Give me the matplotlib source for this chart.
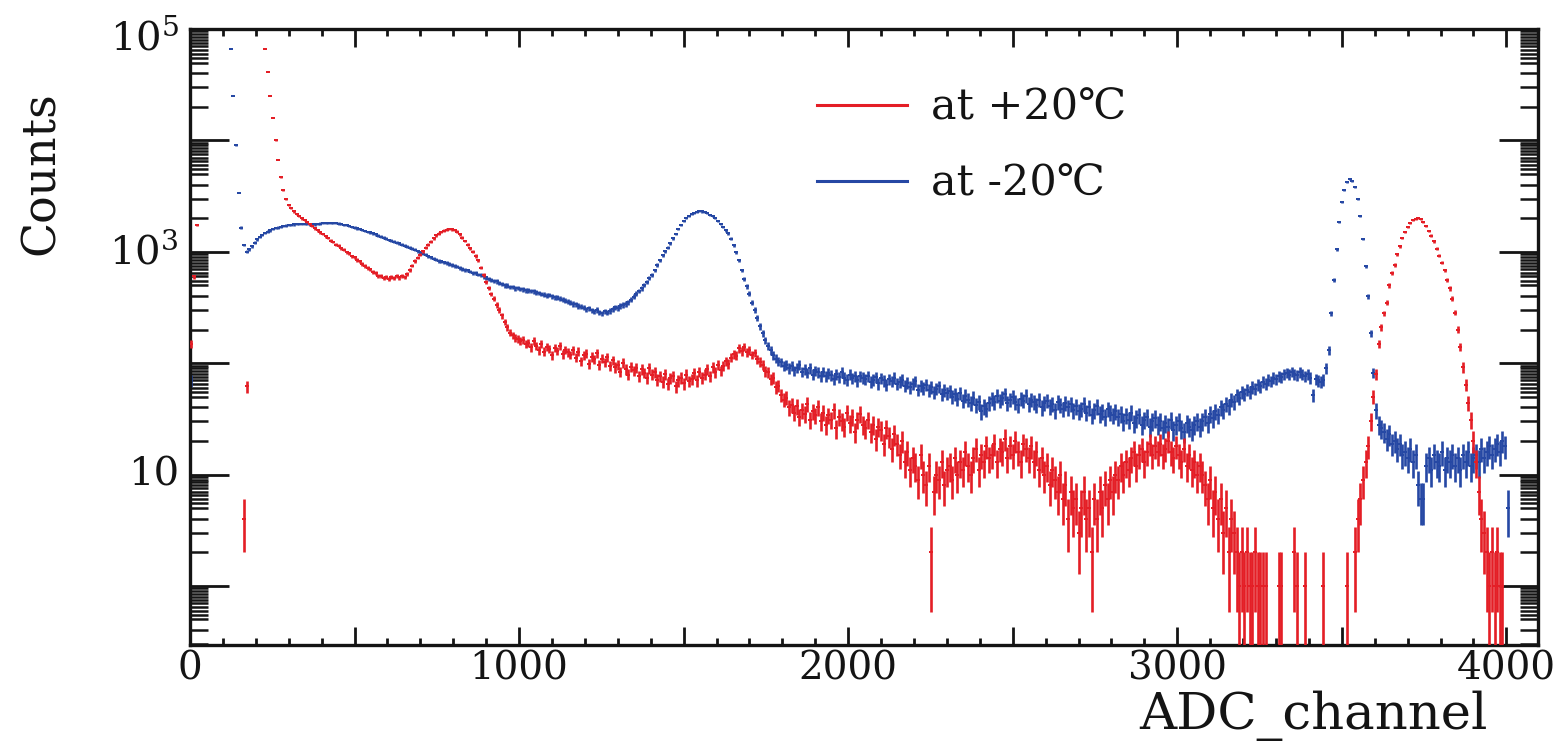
import numpy as np
import matplotlib
matplotlib.use("Agg")
import matplotlib.pyplot as plt
from matplotlib.lines import Line2D
from matplotlib.transforms import ScaledTranslation
from matplotlib.ticker import (FixedLocator, FixedFormatter, MultipleLocator,
                               LogLocator, NullFormatter, FuncFormatter)

plt.rcParams['font.family'] = ['DejaVu Serif', 'DejaVu Sans']
plt.rcParams['mathtext.fontset'] = 'dejavuserif'
plt.rcParams['ytick.alignment'] = 'center'

# ADC spectrum: 512 bins of 8 channels (0 .. 4096)
BIN_WIDTH = 8

# counts per bin, +20 C run (rows of 16 bins = 128 channels)
counts_warm = [
    150, 600, 1750, 0, 0, 0, 0, 0, 0, 0, 0, 0, 0, 0, 0, 0,
    0, 0, 0, 0, 4, 62, 180000, 520000, 900000, 760000, 380000, 140000, 66000, 41000, 25000, 16000,
    10000, 6700, 4700, 3600, 3000, 2650, 2450, 2300, 2180, 2080, 1990, 1920, 1850, 1780, 1700, 1620,
    1560, 1495, 1450, 1375, 1330, 1262, 1225, 1160, 1135, 1072, 1048, 995, 968, 915, 893, 846,
    822, 776, 745, 712, 694, 661, 645, 612, 604, 582, 596, 571, 598, 578, 609, 588,
    612, 598, 633, 684, 752, 826, 884, 938, 1012, 1088, 1162, 1236, 1318, 1402, 1458, 1512,
    1548, 1582, 1603, 1588, 1566, 1518, 1432, 1338, 1252, 1162, 1080, 1002, 918, 836, 722, 618,
    538, 472, 418, 378, 334, 302, 268, 236, 210, 188, 179, 168, 165, 158, 161, 149,
    152, 139, 158, 144, 131, 149, 127, 141, 135, 118, 138, 129, 143, 121, 132, 126,
    119, 131, 112, 127, 104, 118, 122, 99, 114, 108, 123, 96, 110, 102, 113, 94,
    106, 92, 97, 84, 101, 88, 79, 93, 86, 91, 77, 88, 82, 74, 90, 79,
    83, 71, 76, 68, 80, 65, 73, 77, 62, 70, 74, 66, 79, 69, 72, 81,
    70, 84, 74, 79, 88, 76, 92, 83, 97, 86, 94, 104, 99, 112, 121, 117,
    136, 128, 141, 125, 131, 119, 124, 108, 103, 97, 85, 83, 72, 74, 61, 63,
    52, 47, 49, 40, 42, 36, 41, 33, 38, 35, 43, 31, 37, 34, 40, 30,
    36, 28, 34, 31, 38, 26, 33, 30, 27, 36, 29, 33, 24, 31, 35, 28,
    26, 31, 24, 28, 21, 27, 25, 19, 26, 22, 17, 23, 19, 15, 20, 13,
    16, 11, 14, 12, 9, 15, 10, 8, 12, 2, 7, 10, 9, 13, 8, 11,
    12, 9, 14, 10, 13, 11, 16, 12, 10, 14, 17, 11, 15, 13, 18, 14,
    15, 19, 13, 17, 16, 21, 14, 18, 15, 20, 16, 13, 19, 17, 14, 18,
    13, 16, 11, 14, 10, 12, 8, 11, 9, 7, 10, 6, 8, 4, 7, 5,
    6, 3, 5, 7, 4, 5, 2, 6, 4, 7, 5, 8, 6, 9, 7, 10,
    9, 12, 10, 13, 11, 14, 16, 12, 15, 17, 13, 16, 19, 15, 18, 16,
    19, 15, 17, 20, 16, 14, 18, 15, 13, 17, 12, 15, 11, 13, 10, 12,
    10, 8, 6, 9, 5, 7, 4, 6, 3, 5, 2, 4, 3, 2, 1, 2,
    1, 2, 1, 1, 2, 1, 1, 1, 1, 0, 0, 0, 0, 1, 1, 0,
    0, 0, 0, 2, 1, 0, 0, 1, 0, 0, 0, 0, 0, 0, 1, 0,
    0, 0, 0, 0, 0, 0, 0, 1, 0, 0, 2, 4, 6, 9, 13, 18,
    30, 50, 80, 150, 210, 280, 350, 500, 640, 760, 950, 1120, 1330, 1500, 1660, 1800,
    1920, 1980, 2010, 1980, 1860, 1700, 1540, 1400, 1240, 1060, 920, 800, 680, 560, 470, 380,
    285, 200, 140, 92, 64, 44, 31, 20, 13, 7, 4, 3, 2, 1, 2, 1,
    2, 1, 1, 0, 0, 0, 0, 0, 0, 0, 0, 0, 0, 0, 0, 0,
]

# counts per bin, -20 C run
counts_cold = [
    70, 0, 0, 0, 0, 0, 0, 0, 150000, 420000, 800000, 950000, 700000, 380000, 160000, 66000,
    25000, 9000, 3400, 1650, 1150, 1000, 1050, 1120, 1210, 1290, 1360, 1420, 1480, 1520, 1560, 1600,
    1630, 1650, 1680, 1700, 1720, 1740, 1750, 1760, 1770, 1780, 1770, 1780, 1770, 1760, 1770, 1760,
    1780, 1790, 1800, 1810, 1800, 1820, 1810, 1800, 1790, 1770, 1750, 1730, 1700, 1670, 1650, 1620,
    1600, 1570, 1540, 1510, 1490, 1460, 1430, 1400, 1370, 1340, 1310, 1280, 1260, 1230, 1210, 1190,
    1160, 1130, 1110, 1090, 1060, 1040, 1010, 990, 960, 940, 910, 890, 870, 850, 830, 820,
    805, 790, 775, 760, 745, 735, 720, 705, 690, 680, 665, 650, 640, 625, 615, 600,
    588, 571, 563, 548, 541, 522, 518, 500, 497, 486, 482, 470, 474, 462, 461, 452,
    450, 446, 441, 432, 428, 418, 413, 405, 410, 398, 392, 390, 380, 372, 365, 356,
    350, 340, 338, 326, 322, 315, 304, 310, 298, 292, 300, 286, 280, 292, 285, 296,
    305, 318, 312, 326, 334, 340, 352, 372, 395, 420, 445, 470, 505, 540, 580, 620,
    680, 760, 840, 930, 1010, 1090, 1190, 1320, 1450, 1600, 1740, 1880, 2000, 2110, 2190, 2250,
    2290, 2310, 2300, 2270, 2220, 2150, 2080, 2000, 1900, 1780, 1660, 1560, 1460, 1310, 1140, 990,
    840, 680, 570, 490, 420, 350, 300, 255, 215, 185, 160, 142, 130, 118, 110, 104,
    102, 95, 97, 90, 94, 86, 91, 97, 84, 88, 82, 90, 79, 86, 83, 77,
    84, 76, 81, 78, 72, 80, 75, 83, 74, 71, 79, 73, 77, 70, 76, 74,
    72, 77, 68, 71, 75, 66, 73, 70, 64, 72, 69, 74, 65, 68, 71, 63,
    67, 61, 65, 69, 58, 63, 60, 64, 57, 61, 55, 59, 62, 53, 57, 54,
    56, 50, 53, 48, 54, 46, 51, 47, 44, 49, 42, 45, 37, 41, 39, 44,
    48, 45, 51, 46, 49, 53, 44, 47, 50, 45, 42, 48, 46, 51, 43, 47,
    45, 42, 47, 40, 44, 46, 41, 43, 38, 45, 42, 39, 44, 40, 43, 38,
    41, 37, 39, 43, 36, 40, 34, 38, 41, 35, 37, 33, 39, 36, 34, 37,
    33, 35, 30, 34, 31, 36, 29, 32, 34, 28, 31, 33, 27, 30, 32, 28,
    30, 26, 29, 27, 31, 25, 28, 30, 26, 24, 29, 27, 25, 28, 30, 27,
    30, 33, 29, 35, 32, 37, 34, 40, 38, 43, 41, 47, 45, 52, 49, 55,
    53, 58, 55, 61, 59, 64, 62, 68, 65, 71, 69, 74, 72, 77, 75, 80,
    82, 79, 84, 80, 78, 83, 79, 76, 80, 74, 52, 72, 70, 68, 71, 90,
    130, 280, 560, 1050, 1860, 2800, 3600, 4200, 4470, 4300, 3800, 3000, 2100, 1300, 740, 400,
    186, 82, 38, 28, 26, 24, 21, 23, 19, 20, 17, 19, 15, 16, 14, 17,
    13, 15, 8, 6, 6, 12, 14, 11, 15, 13, 12, 16, 11, 14, 13, 15,
    12, 14, 11, 15, 13, 16, 12, 14, 15, 13, 17, 14, 16, 18, 15, 17,
    19, 16, 20, 18, 5, 0, 0, 0, 0, 0, 0, 0, 0, 0, 0, 0,
]

series_labels = ['at +20\u2103', 'at -20\u2103']
x_tick_values = [0, 1000, 2000, 3000, 4000]
y_tick_values = [1, 10, 100, 1000, 10000, 100000]
y_tick_labels = ['', '10', '', r'$10^{3}$', '', r'$10^{5}$']

RED = '#e41e26'
BLUE = '#2648a4'
INK = '#141414'

fig = plt.figure(figsize=(15.68, 7.42), dpi=100)
ax = fig.add_axes([190 / 1568, 1 - 645 / 742, 1348 / 1568, 616 / 742])
ax.set_yscale('log')
ax.set_xlim(0, 4096)
ax.set_ylim(0.295, 1e5)

# small flat marker, wider than tall
dash = [(-1.5, -1.0), (1.5, -1.0), (1.5, 1.0), (-1.5, 1.0), (-1.5, -1.0)]


def draw_hist(counts, color, z):
    counts = np.asarray(counts, dtype=float)
    centres = np.arange(counts.size) * BIN_WIDTH + BIN_WIDTH / 2
    keep = counts > 0
    x = centres[keep]
    y = counts[keep]
    err = np.sqrt(y)
    ax.errorbar(x, y, yerr=err, fmt='none', ecolor=color, elinewidth=1.9,
                capsize=0, zorder=z)
    ax.plot(x, y, ls='none', marker=dash, ms=2.8, mew=0, color=color, zorder=z)


draw_hist(counts_cold, BLUE, 2)
draw_hist(counts_warm, RED, 3)

# axis ticks
ax.xaxis.set_major_locator(MultipleLocator(500))
ax.xaxis.set_minor_locator(MultipleLocator(100))
ax.xaxis.set_major_formatter(
    FuncFormatter(lambda v, p: f'{int(round(v))}' if int(round(v)) in x_tick_values else ''))
ax.yaxis.set_major_locator(FixedLocator(y_tick_values))
ax.yaxis.set_major_formatter(FixedFormatter(y_tick_labels))
ax.yaxis.set_minor_locator(LogLocator(base=10, subs=[2, 3, 4, 5, 5.5, 6, 6.5, 7, 7.5, 8, 8.5, 9, 9.5],
                                      numticks=60))
ax.yaxis.set_minor_formatter(NullFormatter())

ax.tick_params(axis='x', which='major', direction='in', length=13, width=2,
               top=True, bottom=True, labelsize=28, pad=4, colors=INK)
ax.tick_params(axis='x', which='minor', direction='in', length=5, width=2,
               top=True, bottom=True, colors=INK)
ax.tick_params(axis='y', which='major', direction='in', length=28, width=2,
               left=True, right=True, labelsize=29, pad=8, colors=INK)
ax.tick_params(axis='y', which='minor', direction='in', length=13, width=1.8,
               left=True, right=True, colors=INK)
for sp in ax.spines.values():
    sp.set_linewidth(2.4)
    sp.set_color(INK)

# the top decade label sits a little below its tick
top_tick = ax.yaxis.get_major_ticks()[-1]
top_tick.label1.set_transform(top_tick.label1.get_transform()
                              + ScaledTranslation(0, -9 / 100, fig.dpi_scale_trans))

ax.set_xlabel('ADC_channel', fontsize=37, color=INK, ha='right', va='baseline')
ax.xaxis.set_label_coords((1488 - 190) / 1348, (645 - 729) / 616)
ax.set_ylabel('Counts', fontsize=33, color=INK, ha='center', va='center')
ax.yaxis.set_label_coords((41 - 190) / 1348, (645 - 173) / 616)

handles = [Line2D([], [], color=RED, lw=2.2), Line2D([], [], color=BLUE, lw=2.2)]
ax.legend(handles, series_labels, loc='upper left',
          bbox_to_anchor=(817 / 1568, 1 - 87 / 742), bbox_transform=fig.transFigure,
          frameon=False, fontsize=31, handlelength=2.1, handletextpad=0.55,
          labelspacing=0.78, borderpad=0, borderaxespad=0, labelcolor=INK)

fig.savefig('out.png', dpi=100)
